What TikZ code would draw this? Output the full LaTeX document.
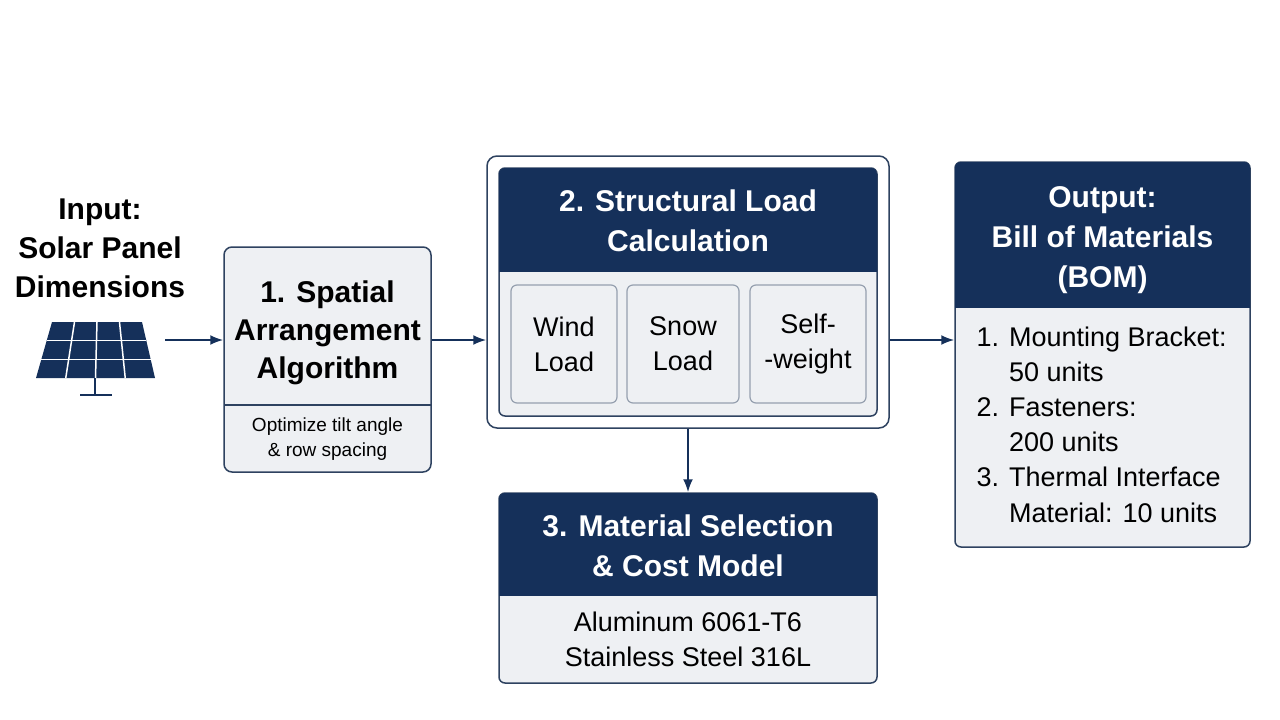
\documentclass[tikz,border=0pt]{standalone}
\usepackage{fontspec}
\setmainfont{Liberation Sans}
\usetikzlibrary{arrows.meta}
\definecolor{navy}{HTML}{15305A}
\definecolor{fillg}{HTML}{EEF0F3}
\definecolor{bord}{HTML}{2E4260}
\begin{document}
\begin{tikzpicture}[x=1pt,y=-1pt,
  box/.style={draw=bord,line width=1.5pt,fill=fillg,rounded corners=8pt,inner sep=0pt},
  head/.style={fill=navy,inner sep=0pt},
  ttl/.style={font=\fontsize{30}{38}\selectfont\bfseries,align=center,text=black},
  wt/.style={font=\fontsize{30}{40}\selectfont\bfseries,align=center,text=white},
  sub/.style={font=\fontsize{27}{35}\selectfont,align=center},
  arr/.style={-{Latex[length=13pt,width=10pt]},line width=2pt,draw=navy}]
\useasboundingbox (0,0) rectangle (1280,720);
\fill[white] (0,0) rectangle (1280,720);
% input
\node[ttl,font=\fontsize{30}{39}\selectfont\bfseries] (in) at (100,248) {Input:\\Solar Panel\\Dimensions};
% panel icon
\begin{scope}
\fill[navy] (52,322) -- (142,322) -- (155,378) -- (36,378) -- cycle;
\foreach \t in {0.25,0.5,0.75}{
  \draw[white,line width=1.5pt] ({52+\t*90},322) -- ({36+\t*119},378);}
\foreach \s in {0.333,0.667}{
  \draw[white,line width=1.5pt] ({52-\s*16},{322+\s*56}) -- ({142+\s*13},{322+\s*56});}
\draw[navy,line width=2pt] (95,378) -- (95,394) (80,395) -- (112,395);
\end{scope}
\coordinate (ia) at (165,340);
% box 1
\node[box,minimum width=207pt,minimum height=225pt] (b1) at (327.5,359.5) {};
\draw[bord,line width=1.2pt] (224,405) -- (431,405);
\node[ttl] (t1) at (327.5,333) {1. Spatial\\Arrangement\\Algorithm};
\node[font=\fontsize{19}{25}\selectfont,align=center] (s1) at (327.5,439) {Optimize tilt angle\\\& row spacing};
% box 2
\node[draw=bord,line width=1.5pt,fill=white,rounded corners=10pt,minimum width=402pt,minimum height=272pt,inner sep=0pt] (b2o) at (688,292) {};
\node[box,minimum width=378pt,minimum height=248pt,rounded corners=6pt] (b2) at (688,292) {};
\begin{scope}
\clip[rounded corners=6pt] (499,168) rectangle (877,416);
\fill[navy] (499,168) rectangle (877,272);
\end{scope}
\node[wt] (t2) at (688,221) {2. Structural Load\\Calculation};
\foreach \n/\a/\b/\txt in {w/511/617/{Wind\\Load},s/627/739/{Snow\\Load},g/750/866/{Self-\\-weight}}{
  \node[draw=bord!50,line width=1.2pt,fill=fillg,rounded corners=6pt,minimum width=\b pt-\a pt,minimum height=118pt,inner sep=0pt,sub] (\n) at ({(\a+\b)/2},344) {\txt};}
% box 3
\node[box,minimum width=378pt,minimum height=190pt,rounded corners=6pt] (b3) at (688,588) {};
\begin{scope}
\clip[rounded corners=6pt] (499,493) rectangle (877,683);
\fill[navy] (499,493) rectangle (877,596);
\end{scope}
\node[wt] (t3) at (688,546) {3. Material Selection\\\& Cost Model};
\node[sub] (s3) at (688,639) {Aluminum 6061-T6\\Stainless Steel 316L};
% box 4
\node[box,minimum width=295pt,minimum height=385pt,rounded corners=6pt] (b4) at (1102.5,354.5) {};
\begin{scope}
\clip[rounded corners=6pt] (955,162) rectangle (1250,547);
\fill[navy] (955,162) rectangle (1250,308);
\end{scope}
\node[wt] (t4) at (1102.5,240) {Output:\\Bill of Materials\\(BOM)};
\node[sub,align=left,anchor=north west,font=\fontsize{27}{35.2}\selectfont] (s4) at (973,323) {1. Mounting Bracket:\\\phantom{1. }50 units\\2. Fasteners:\\\phantom{2. }200 units\\3. Thermal Interface\\\phantom{3. }Material: 10 units};
% arrows
\draw[arr] (ia) -- (b1.west|-ia);
\draw[arr] (b1.east|-ia) -- (b2o.west|-ia);
\draw[arr] (b2o.east|-ia) -- (b4.west|-ia);
\draw[arr] (b2o.south) -- (b3.north);
\end{tikzpicture}
\end{document}
